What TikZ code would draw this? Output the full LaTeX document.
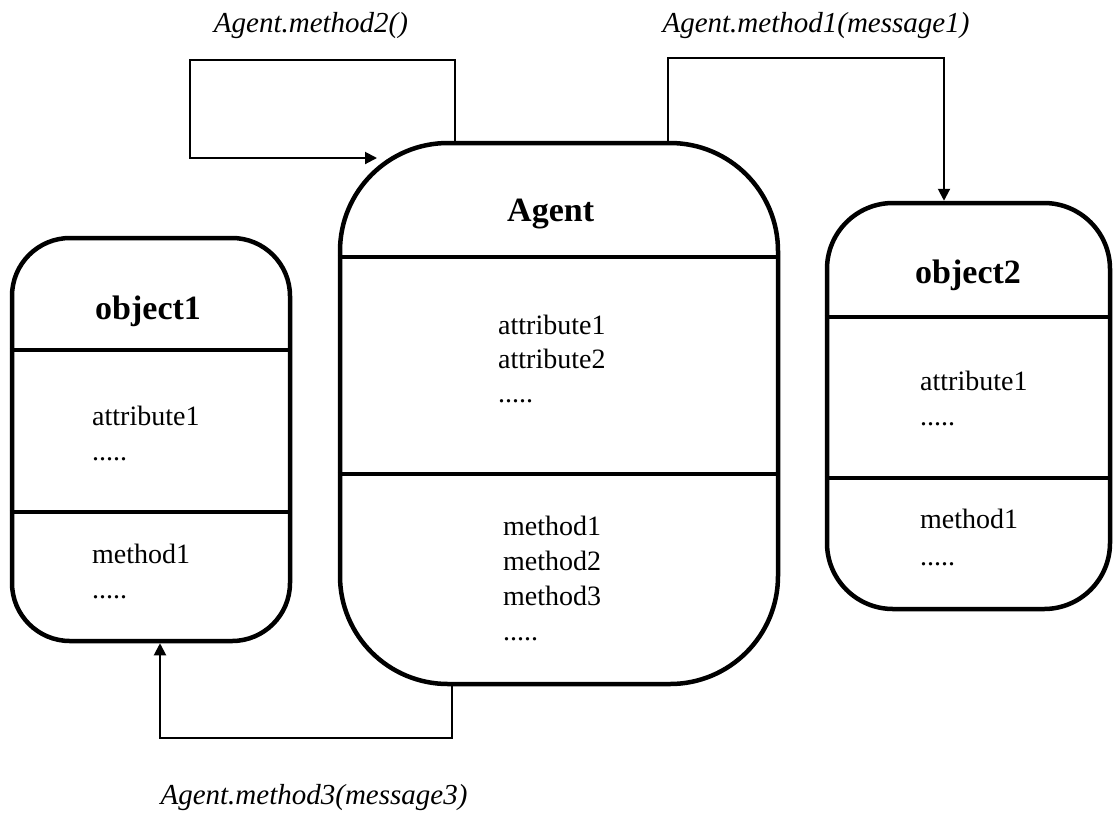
\documentclass[tikz,border=0pt]{standalone}
\usepackage{fontspec}
\setmainfont{Liberation Serif}
\usetikzlibrary{arrows.meta}

\tikzset{
  classbox/.style={draw, line width=4.5pt, inner sep=0pt},
  divider/.style={line width=3.8pt},
  conn/.style={line width=2pt},
  tip/.style={-{Triangle[length=12pt,width=12pt]}},
  title/.style={font=\fontsize{34}{40}\selectfont\bfseries, anchor=base west, inner sep=0pt},
  entry/.style={font=\fontsize{28}{34}\selectfont, anchor=base west, inner sep=0pt},
  msg/.style={font=\fontsize{29}{35}\selectfont\itshape, anchor=base, inner sep=0pt}
}

\begin{document}
\begin{tikzpicture}[x=1pt, y=-1pt]
  \useasboundingbox (0,0) rectangle (1116,815);

  % class boxes
  \node[classbox, rounded corners=58pt, minimum width=278pt, minimum height=403pt] (obj1) at (151,439.5) {};
  \node[classbox, rounded corners=108pt, minimum width=438pt, minimum height=541pt] (agent) at (559,413.5) {};
  \node[classbox, rounded corners=66pt, minimum width=283pt, minimum height=406pt] (obj2) at (968.5,406) {};

  % compartment separators
  \draw[divider] (obj1.west |- 0,350) -- (obj1.east |- 0,350);
  \draw[divider] (obj1.west |- 0,512) -- (obj1.east |- 0,512);
  \draw[divider] (agent.west |- 0,257) -- (agent.east |- 0,257);
  \draw[divider] (agent.west |- 0,474) -- (agent.east |- 0,474);
  \draw[divider] (obj2.west |- 0,317) -- (obj2.east |- 0,317);
  \draw[divider] (obj2.west |- 0,478) -- (obj2.east |- 0,478);

  % object1
  \node[title] (o1name) at (95,319) {object1};
  \node[entry] (o1a1) at (92,425) {attribute1};
  \node[entry] (o1a2) at (92,460) {.....};
  \node[entry] (o1m1) at (92,563) {method1};
  \node[entry] (o1m2) at (92,598) {.....};

  % Agent
  \node[title] (agname) at (507,221) {Agent};
  \node[entry] (aga1) at (498,334) {attribute1};
  \node[entry] (aga2) at (498,368) {attribute2};
  \node[entry] (aga3) at (498,402) {.....};
  \node[entry] (agm1) at (503,535) {method1};
  \node[entry] (agm2) at (503,570) {method2};
  \node[entry] (agm3) at (503,605) {method3};
  \node[entry] (agm4) at (503,640) {.....};

  % object2
  \node[title] (o2name) at (915,283) {object2};
  \node[entry] (o2a1) at (920,390) {attribute1};
  \node[entry] (o2a2) at (920,425) {.....};
  \node[entry] (o2m1) at (920,528) {method1};
  \node[entry] (o2m2) at (920,565) {.....};

  % message connectors
  \coordinate (m2end) at (377,158);
  \draw[conn, tip] (agent.north -| 455,0) -- (455,60) -- (190,60) -- (190,158) -- (m2end);
  \draw[conn, tip] (agent.north -| 668,0) -- (668,58) -- (944,58) -- (obj2.north -| 944,0);
  \draw[conn, tip] (agent.south -| 452,0) -- (452,738) -- (160,738) -- (obj1.south -| 160,0);

  % message labels
  \node[msg] (lbl2) at (311,32) {Agent.method2()};
  \node[msg] (lbl1) at (816,32) {Agent.method1(message1)};
  \node[msg] (lbl3) at (314,804) {Agent.method3(message3)};
\end{tikzpicture}
\end{document}
